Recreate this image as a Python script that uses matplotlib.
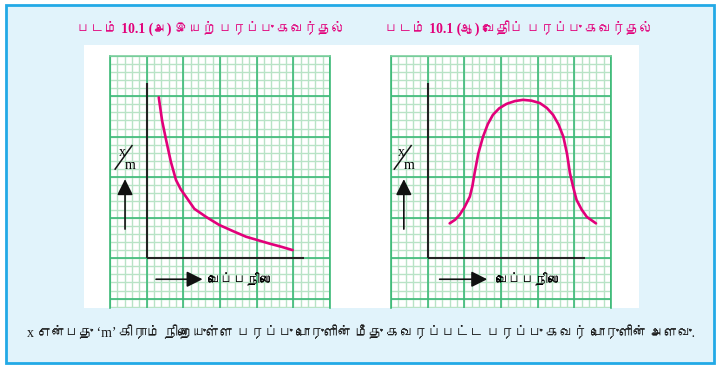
import matplotlib
matplotlib.use("Agg")
import matplotlib.pyplot as plt
from matplotlib import font_manager, ft2font
from matplotlib.patches import Rectangle, FancyArrowPatch

# ---------------- data ----------------
title_left = "படம் 10.1 (அ) இயற் பரப்பு கவர்தல்"
title_right = "படம் 10.1 (ஆ) வேதிப் பரப்பு கவர்தல்"
xlabel_text = "வெப்பநிலை"
caption = "x என்பது ‘m’ கிராம் நிறையுள்ள பரப்பு பொருளின் மீது கவரப்பட்ட பரப்பு கவர் பொருளின் அளவு."

# physical adsorption curve (grid-cell units)
phys_x = [0.33, 0.42, 0.53, 0.66, 0.80, 0.93, 1.07, 1.30, 1.62, 1.98, 2.35, 2.71, 3.05, 3.35, 3.68, 3.98]
phys_y = [3.97, 3.40, 2.92, 2.38, 1.93, 1.70, 1.52, 1.22, 1.02, 0.82, 0.67, 0.53, 0.44, 0.36, 0.28, 0.20]

# chemical adsorption curve (grid-cell units)
chem_x = [0.60, 0.75, 0.87, 1.00, 1.15, 1.22, 1.28, 1.38, 1.51, 1.64, 1.78, 1.95, 2.15, 2.38, 2.60, 2.83,
          3.06, 3.25, 3.42, 3.57, 3.70, 3.80, 3.88, 3.97, 4.06, 4.20, 4.34, 4.59]
chem_y = [0.86, 0.95, 1.07, 1.25, 1.52, 1.78, 2.10, 2.58, 3.00, 3.31, 3.54, 3.70, 3.81, 3.88, 3.91, 3.89,
          3.83, 3.71, 3.54, 3.30, 3.00, 2.58, 2.10, 1.75, 1.44, 1.20, 1.02, 0.86]

# ---------------- fonts ----------------
def find_font(ch):
    for f in font_manager.fontManager.ttflist:
        try:
            if ord(ch) in ft2font.FT2Font(f.fname).get_charmap():
                return f.name
        except Exception:
            pass
    return None

tamil = find_font("ப")
serif_fam = ["Liberation Serif"] + ([tamil] if tamil else []) + ["DejaVu Sans"]
sans_fam = ([tamil] if tamil else []) + ["DejaVu Sans"]

W, H = 721, 367
fig = plt.figure(figsize=(W / 100, H / 100), dpi=100)
fig.patch.set_facecolor("white")

# background frame in pixel coordinates
bg = fig.add_axes([0, 0, 1, 1])
bg.set_xlim(0, W)
bg.set_ylim(H, 0)
bg.axis("off")
bg.add_patch(Rectangle((6, 5), 708, 358, facecolor="#e1f3fb", edgecolor="#22a9e6", lw=2))
bg.add_patch(Rectangle((83.5, 45), 555, 263, facecolor="white", edgecolor="none"))

pink = "#e2007a"
bg.text(211, 28, title_left, color=pink, fontsize=9.8, fontweight="bold",
        ha="center", va="center", family=serif_fam)
bg.text(519, 28, title_right, color=pink, fontsize=9.8, fontweight="bold",
        ha="center", va="center", family=serif_fam)
bg.text(361, 333, caption, color="#1a1a1a", fontsize=10,
        ha="center", va="center", family=serif_fam)


def make_panel(left_px, curve_x, curve_y, xarr, label_x, yarr_x, xm_dx):
    top_px, bot_px, w_px = 55.7, 308, 220
    ax = fig.add_axes([left_px / W, (H - bot_px) / H, w_px / W, (bot_px - top_px) / H])
    ax.set_xlim(-1, 5)
    ax.set_ylim(-1.23, 5)
    ax.set_facecolor("none")
    ax.spines["bottom"].set_visible(False)
    for s in ["left", "right", "top"]:
        ax.spines[s].set_color("#3dba78")
        ax.spines[s].set_linewidth(1.2)
    ax.spines["top"].set_color("#7fd0a0")
    # grid
    for v in [i / 5 for i in range(-5, 26)]:
        ax.axvline(v, color="#b8e3c6", lw=1.0, zorder=0)
    for v in [i / 5 for i in range(-7, 26)]:
        ax.axhline(v, color="#b8e3c6", lw=1.0, zorder=0)
    for v in range(-1, 6):
        ax.axvline(v, color="#3dba78", lw=1.2, zorder=1)
    for v in range(-1, 6):
        ax.axhline(v, color="#3dba78", lw=1.2, zorder=1)
    ax.set_xticks([])
    ax.set_yticks([])
    # axes lines
    ax.plot([0, 0], [0, 4.33], color="#222222", lw=1.5, zorder=3, solid_capstyle="butt")
    ax.plot([0, 4.28], [0, 0], color="#222222", lw=1.5, zorder=3, solid_capstyle="butt")
    # curve
    ax.plot(curve_x, curve_y, color=pink, lw=1.9, zorder=4, solid_capstyle="round")
    # arrows
    ax.add_patch(FancyArrowPatch((yarr_x, 0.65), (yarr_x, 2.02), arrowstyle="-|>,head_length=6,head_width=3",
                                 mutation_scale=1.6, color="#111111", lw=1.2, zorder=5))
    ax.add_patch(FancyArrowPatch((xarr[0], -0.52), (xarr[1], -0.52), arrowstyle="-|>,head_length=6,head_width=3",
                                 mutation_scale=1.6, color="#111111", lw=1.2, zorder=5))
    ax.text(label_x, -0.52, xlabel_text, fontsize=9.5, ha="left", va="center", family=sans_fam, zorder=5)
    # x/m label
    ax.text(-0.66 + xm_dx, 2.62, "x", fontsize=10, ha="center", va="center",
            family=["Liberation Serif"], zorder=5)
    ax.text(-0.45 + xm_dx, 2.30, "m", fontsize=10, ha="center", va="center",
            family=["Liberation Serif"], zorder=5)
    ax.plot([-0.86 + xm_dx, -0.40 + xm_dx], [2.20, 2.78], color="#111111", lw=1.1, zorder=5)
    return ax


make_panel(110, phys_x, phys_y, (0.18, 1.60), 1.66, -0.59, 0.0)
make_panel(391, chem_x, chem_y, (0.25, 1.70), 1.86, -0.65, -0.05)

fig.savefig("out.png", dpi=100, facecolor=fig.get_facecolor())
